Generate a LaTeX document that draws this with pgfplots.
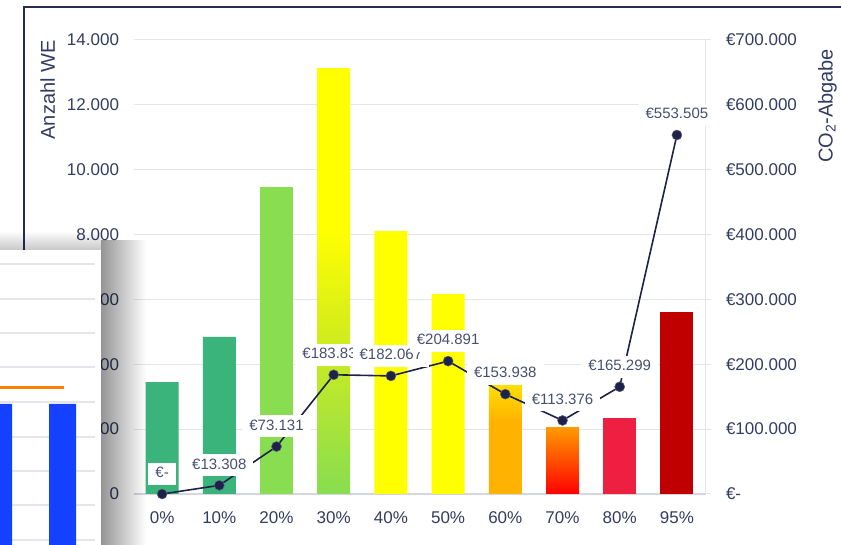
\documentclass[border=0pt]{standalone}
\usepackage{fontspec}
\setmainfont{Liberation Sans}
\usepackage{pgfplots}
\pgfplotsset{compat=1.18}
\usepackage{pgfplotstable}
\usetikzlibrary{fadings}

\definecolor{txt}{RGB}{52,60,98}
\definecolor{lbl}{RGB}{72,80,112}
\definecolor{linec}{RGB}{30,34,72}
\definecolor{gridc}{RGB}{228,229,233}
\definecolor{axc}{RGB}{212,214,224}
\definecolor{framec}{RGB}{40,45,85}
\definecolor{cgreen}{RGB}{58,180,122}
\definecolor{clgreen}{RGB}{136,221,80}
\definecolor{cyellow}{RGB}{255,255,0}
\definecolor{cyg}{RGB}{215,238,25}
\definecolor{cgold}{RGB}{255,226,0}
\definecolor{corange}{RGB}{255,178,0}
\definecolor{cseventop}{RGB}{255,155,0}
\definecolor{csevenbot}{RGB}{255,0,0}
\definecolor{ccrim}{RGB}{238,32,66}
\definecolor{cdred}{RGB}{192,0,0}
\definecolor{cblue}{RGB}{20,65,255}
\definecolor{corg}{RGB}{255,128,0}

\pgfdeclareverticalshading{barthirty}{100bp}{color(0bp)=(clgreen); color(25bp)=(clgreen); color(45bp)=(cyg); color(56bp)=(cyellow); color(100bp)=(cyellow)}
\pgfdeclareverticalshading{barsixty}{100bp}{color(0bp)=(corange); color(25bp)=(corange); color(58bp)=(corange); color(75bp)=(cgold); color(100bp)=(cgold)}
\pgfdeclareverticalshading{barseventy}{100bp}{color(0bp)=(csevenbot); color(25bp)=(csevenbot); color(75bp)=(cseventop); color(100bp)=(cseventop)}

\tikzfading[name=fadeR, left color=transparent!0, right color=transparent!100]
\tikzfading[name=fadeU, bottom color=transparent!0, top color=transparent!100]

\pgfplotstableread{
x y lab
0 0 €-
1 13308 €13.308
2 73131 €73.131
3 183831 €183.831
4 182067 €182.067
5 204891 €204.891
6 153938 €153.938
7 113376 €113.376
8 165299 €165.299
9 553505 €553.505
}\costtable

\begin{document}
\begin{tikzpicture}
\useasboundingbox (0,0) rectangle (841pt,545pt);
\fill[white] (0,0) rectangle (841pt,545pt);
\draw[framec, line width=2pt] (24pt,-5pt) -- (24pt,538pt) -- (860pt,538pt);

\begin{axis}[
  at={(133.5pt,51pt)}, anchor=south west,
  width=572pt, height=454pt, scale only axis,
  xmin=-0.5, xmax=9.5, ymin=0, ymax=14000,
  xtick={0,...,9},
  xticklabels={0\%,10\%,20\%,30\%,40\%,50\%,60\%,70\%,80\%,95\%},
  ytick={0,2000,...,14000},
  scaled y ticks=false,
  yticklabel={\pgfmathprintnumber[fixed, precision=0, 1000 sep={.}, assume math mode=true]{\tick}},
  axis x line*=bottom, axis y line*=left,
  axis line style={-},
  x axis line style={draw=axc, line width=1.2pt},
  y axis line style={draw=none},
  tick style={draw=none}, major tick length=0pt,
  ymajorgrids, grid style={gridc, line width=1pt},
  ticklabel style={font=\fontsize{17}{20}\selectfont, text=txt},
  xticklabel style={yshift=-14pt},
  yticklabel style={xshift=-11pt},
  clip=false,
]
\addplot[ybar, bar width=33pt, bar shift=0pt, fill=cgreen, draw=none] coordinates {(0,3450) (1,4845)};
\addplot[ybar, bar width=33pt, bar shift=0pt, fill=clgreen, draw=none] coordinates {(2,9455)};
\addplot[ybar, bar width=33pt, bar shift=0pt, shading=barthirty, draw=none] coordinates {(3,13120)};
\addplot[ybar, bar width=33pt, bar shift=0pt, fill=cyellow, draw=none] coordinates {(4,8105) (5,6160)};
\addplot[ybar, bar width=33pt, bar shift=0pt, shading=barsixty, draw=none] coordinates {(6,3420)};
\addplot[ybar, bar width=33pt, bar shift=0pt, shading=barseventy, draw=none] coordinates {(7,2065)};
\addplot[ybar, bar width=33pt, bar shift=0pt, fill=ccrim, draw=none] coordinates {(8,2340)};
\addplot[ybar, bar width=33pt, bar shift=0pt, fill=cdred, draw=none] coordinates {(9,5610)};
\node[rotate=90, font=\fontsize{20}{24}\selectfont, text=txt] at (rel axis cs:-0.150,0.890) {Anzahl WE};
\node[rotate=90, font=\fontsize{20}{24}\selectfont, text=txt] at (rel axis cs:1.213,0.855) {CO\textsubscript{2}-Abgabe};
\end{axis}

\begin{axis}[
  at={(133.5pt,51pt)}, anchor=south west,
  width=572pt, height=454pt, scale only axis,
  xmin=-0.5, xmax=9.5, ymin=0, ymax=700000,
  axis y line*=right, axis x line=none, xtick=\empty,
  scaled y ticks=false,
  ytick={0,100000,200000,300000,400000,500000,600000,700000},
  yticklabels={€-,€100.000,€200.000,€300.000,€400.000,€500.000,€600.000,€700.000},
  axis line style={-},
  y axis line style={draw=gridc, line width=1pt},
  ytick style={draw=gridc, line width=1pt},
  tick align=outside, major tick length=5pt,
  yticklabel style={font=\fontsize{17}{20}\selectfont, text=txt, anchor=west, xshift=12pt},
  clip=false,
]
\addplot[linec, line width=1.6pt, mark=*, mark size=5pt,
  mark options={fill=linec, draw=linec!70!white, line width=0.5pt},
  nodes near coords, point meta=explicit symbolic,
  every node near coord/.append style={anchor=south, yshift=9pt, fill=white,
    inner xsep=7pt, inner ysep=4pt, text height=11pt, text depth=3pt,
    text=lbl, font=\fontsize{15}{18}\selectfont}]
  table[x=x, y=y, meta=lab] {\costtable};
\end{axis}

% overlapping window at lower left
\fill[white] (0,0) rectangle (101pt,295pt);
\fill[black, opacity=0.42, path fading=fadeR] (101pt,0) rectangle (146pt,305pt);
\fill[black, opacity=0.22, path fading=fadeU] (0,295pt) rectangle (101pt,314pt);
\begin{axis}[
  at={(0pt,0pt)}, anchor=south west,
  width=95pt, height=295pt, scale only axis,
  xmin=0, xmax=95, ymin=0, ymax=295,
  ytick={5,40,74,108,143,178,212,246,281}, yticklabels={},
  xtick=\empty,
  ymajorgrids, grid style={gridc, line width=1.2pt},
  axis line style={draw=none}, tick style={draw=none}, major tick length=0pt,
]
\addplot[ybar, bar width=27pt, bar shift=0pt, fill=cblue, draw=none] coordinates {(-1.5,141) (62.5,141)};
\addplot[corg, line width=3pt] coordinates {(0,157) (64,157)};
\end{axis}
\end{tikzpicture}
\end{document}
